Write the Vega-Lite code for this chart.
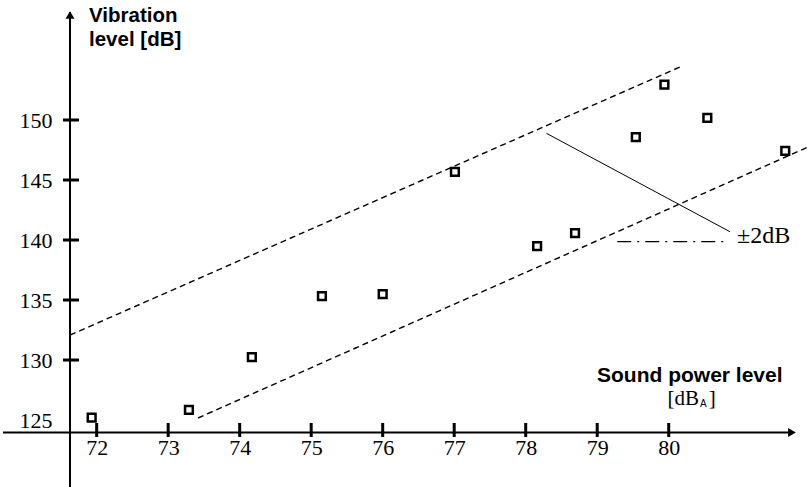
{
  "$schema": "https://vega.github.io/schema/vega-lite/v6.json",
  "width": 807,
  "height": 487,
  "autosize": {"type": "none"},
  "padding": 0,
  "background": "white",
  "config": {"view": {"stroke": null}},
  "encoding": {
    "x": {
      "field": "x", "type": "quantitative",
      "scale": {"domain": [70.648, 81.934], "nice": false, "zero": false},
      "axis": {"values": [72, 73, 74, 75, 76, 77, 78, 79, 80], "domain": false, "ticks": false, "grid": false, "title": null, "offset": -54.5, "labelFont": "Liberation Serif", "labelFontSize": 22, "labelColor": "black", "labelPadding": 5, "labelOverlap": false, "labelFlush": false}
    },
    "y": {
      "field": "y", "type": "quantitative",
      "scale": {"domain": [119.42, 160], "nice": false, "zero": false},
      "axis": {"values": [125, 130, 135, 140, 145, 150], "domain": false, "ticks": false, "grid": false, "title": null, "offset": -70, "labelFont": "Liberation Serif", "labelFontSize": 22, "labelColor": "black", "labelPadding": 18, "labelOverlap": false, "labelFlush": false}
    }
  },
  "layer": [
    {
      "data": {"values": [{"x": 71.627, "y": 159.0, "y2": 119.42}]},
      "mark": {"type": "rule", "color": "black", "strokeWidth": 2},
      "encoding": {"y2": {"field": "y2"}}
    },
    {
      "data": {"values": [{"x": 70.69, "x2": 81.72, "y": 123.96}]},
      "mark": {"type": "rule", "color": "black", "strokeWidth": 2},
      "encoding": {"x2": {"field": "x2"}}
    },
    {
      "data": {"values": [{"x": 81.724, "y": 123.96}]},
      "mark": {"type": "point", "shape": "triangle-right", "filled": true, "color": "black", "size": 80, "opacity": 1}
    },
    {
      "data": {"values": [{"x": 71.627, "y": 158.75}]},
      "mark": {"type": "point", "shape": "triangle-up", "filled": true, "color": "black", "size": 80, "opacity": 1}
    },
    {
      "data": {"values": [
        {"tx": 72, "ty": 124.753, "ty2": 123.586}, {"tx": 73, "ty": 124.753, "ty2": 123.586},
        {"tx": 74, "ty": 124.753, "ty2": 123.586}, {"tx": 75, "ty": 124.753, "ty2": 123.586},
        {"tx": 76, "ty": 124.753, "ty2": 123.586}, {"tx": 77, "ty": 124.753, "ty2": 123.586},
        {"tx": 78, "ty": 124.753, "ty2": 123.586}, {"tx": 79, "ty": 124.753, "ty2": 123.586},
        {"tx": 80, "ty": 124.753, "ty2": 123.586}
      ]},
      "mark": {"type": "rule", "color": "black", "strokeWidth": 3},
      "encoding": {"x": {"field": "tx", "type": "quantitative"}, "y": {"field": "ty", "type": "quantitative"}, "y2": {"field": "ty2"}}
    },
    {
      "data": {"values": [
        {"tx": 71.529, "tx2": 71.753, "ty": 130}, {"tx": 71.529, "tx2": 71.753, "ty": 135},
        {"tx": 71.529, "tx2": 71.753, "ty": 140}, {"tx": 71.529, "tx2": 71.753, "ty": 145},
        {"tx": 71.529, "tx2": 71.753, "ty": 150}
      ]},
      "mark": {"type": "rule", "color": "black", "strokeWidth": 3},
      "encoding": {"x": {"field": "tx", "type": "quantitative"}, "x2": {"field": "tx2"}, "y": {"field": "ty", "type": "quantitative"}}
    },
    {
      "data": {"values": [{"x": 71.627, "y": 132.08}, {"x": 80.158, "y": 154.42}]},
      "mark": {"type": "line", "color": "black", "strokeWidth": 1.4, "strokeDash": [6, 4]}
    },
    {
      "data": {"values": [{"x": 73.417, "y": 125.17}, {"x": 81.934, "y": 147.71}]},
      "mark": {"type": "line", "color": "black", "strokeWidth": 1.4, "strokeDash": [6, 4]}
    },
    {
      "data": {"values": [{"x": 78.29, "y": 148.89}, {"x": 80.857, "y": 140.69}]},
      "mark": {"type": "line", "color": "black", "strokeWidth": 1}
    },
    {
      "data": {"values": [{"x": 79.28, "y": 139.86}, {"x": 80.83, "y": 139.86}]},
      "mark": {"type": "line", "color": "black", "strokeWidth": 1.2, "strokeDash": [14, 6, 2, 6]}
    },
    {
      "data": {"values": [
        {"x": 71.93, "y": 125.2}, {"x": 73.29, "y": 125.85}, {"x": 74.17, "y": 130.25},
        {"x": 75.15, "y": 135.33}, {"x": 76.0, "y": 135.5}, {"x": 77.01, "y": 145.67},
        {"x": 78.16, "y": 139.5}, {"x": 78.69, "y": 140.58}, {"x": 79.54, "y": 148.58},
        {"x": 79.94, "y": 152.94}, {"x": 80.54, "y": 150.17}, {"x": 81.63, "y": 147.42}
      ]},
      "mark": {"type": "point", "shape": "square", "filled": false, "color": "black", "strokeWidth": 2.5, "size": 60, "opacity": 1}
    },
    {
      "data": {"values": [{"x": 71.893, "y": 158.167, "label": "Vibration"}, {"x": 71.893, "y": 156.167, "label": "level [dB]"}]},
      "mark": {"type": "text", "align": "left", "baseline": "alphabetic", "font": "Liberation Sans", "fontWeight": "bold", "fontSize": 20.5, "color": "black"},
      "encoding": {"text": {"field": "label"}}
    },
    {
      "data": {"values": [{"x": 78.997, "y": 128.17, "label": "Sound power level"}]},
      "mark": {"type": "text", "align": "left", "baseline": "alphabetic", "font": "Liberation Sans", "fontWeight": "bold", "fontSize": 21, "color": "black"},
      "encoding": {"text": {"field": "label"}}
    },
    {
      "data": {"values": [{"x": 80.424, "y": 126.25, "label": "[dB"}]},
      "mark": {"type": "text", "align": "right", "baseline": "alphabetic", "font": "Liberation Serif", "fontSize": 21, "color": "black"},
      "encoding": {"text": {"field": "label"}}
    },
    {
      "data": {"values": [{"x": 80.438, "y": 126.09, "label": "A"}]},
      "mark": {"type": "text", "align": "left", "baseline": "alphabetic", "font": "Liberation Sans", "fontSize": 10, "color": "black"},
      "encoding": {"text": {"field": "label"}}
    },
    {
      "data": {"values": [{"x": 80.56, "y": 126.25, "label": "]"}]},
      "mark": {"type": "text", "align": "left", "baseline": "alphabetic", "font": "Liberation Serif", "fontSize": 21, "color": "black"},
      "encoding": {"text": {"field": "label"}}
    },
    {
      "data": {"values": [{"x": 80.955, "y": 139.752, "label": "±2dB"}]},
      "mark": {"type": "text", "align": "left", "baseline": "alphabetic", "font": "Liberation Serif", "fontSize": 24, "color": "black"},
      "encoding": {"text": {"field": "label"}}
    }
  ]
}
